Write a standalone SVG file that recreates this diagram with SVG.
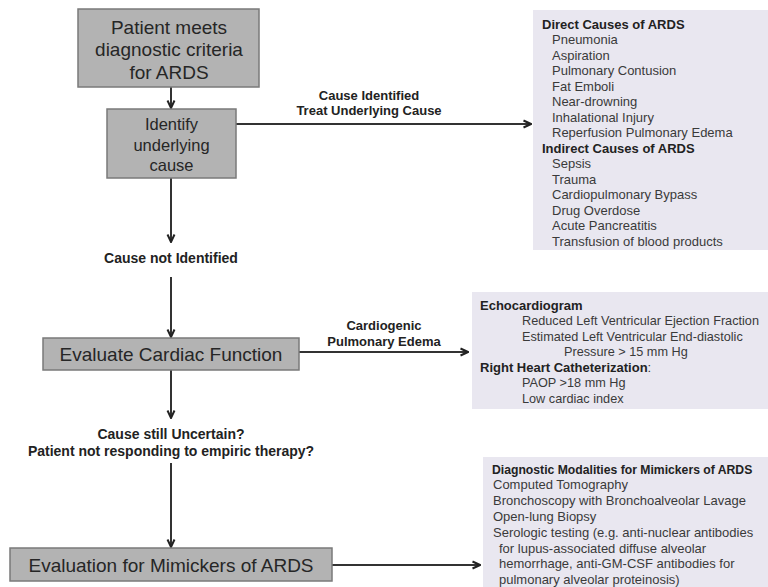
<svg xmlns="http://www.w3.org/2000/svg" width="768" height="587" viewBox="0 0 768 587">
<defs>
<style>
.box{fill:#b3b3b3;stroke:#7a7a7a;stroke-width:1.5}
.panel{fill:#e9e7f0;stroke:none}
.big{font-family:"Liberation Sans",Arial,sans-serif;font-size:19px;fill:#262626;text-anchor:middle}
.mid{font-family:"Liberation Sans",Arial,sans-serif;font-size:16.5px;fill:#262626;text-anchor:middle}
.lbl{font-family:"Liberation Sans",Arial,sans-serif;font-size:13px;font-weight:bold;fill:#222;text-anchor:middle}
.lbl14{font-family:"Liberation Sans",Arial,sans-serif;font-size:14px;font-weight:bold;fill:#222;text-anchor:middle}
.t{font-family:"Liberation Sans",Arial,sans-serif;font-size:13px;fill:#3a3a3a}
.t2{font-family:"Liberation Sans",Arial,sans-serif;font-size:12.7px;fill:#3a3a3a}
.h{font-family:"Liberation Sans",Arial,sans-serif;font-size:13px;font-weight:bold;fill:#222}
.c{fill:none;stroke:#333;stroke-width:2}
</style>
<marker id="arr" markerUnits="userSpaceOnUse" viewBox="0 0 10 10" refX="9" refY="5" markerWidth="10" markerHeight="10" orient="auto">
<path d="M1.5,1.5 L9,5 L1.5,8.5" fill="none" stroke="#222" stroke-width="2"/>
</marker>
</defs>

<g id="connectors">
<line class="c" x1="171" y1="87" x2="171" y2="108" marker-end="url(#arr)"/>
<line class="c" x1="236" y1="124" x2="531" y2="124" marker-end="url(#arr)"/>
<line class="c" x1="171" y1="178" x2="171" y2="242" marker-end="url(#arr)"/>
<line class="c" x1="171" y1="277" x2="171" y2="337" marker-end="url(#arr)"/>
<line class="c" x1="299" y1="352" x2="468" y2="352" marker-end="url(#arr)"/>
<line class="c" x1="171" y1="370" x2="171" y2="418" marker-end="url(#arr)"/>
<line class="c" x1="171" y1="463" x2="171" y2="547" marker-end="url(#arr)"/>
<line class="c" x1="332" y1="565" x2="480" y2="565" marker-end="url(#arr)"/>
<text class="lbl" x="369" y="99.5">Cause Identified</text>
<text class="lbl" x="369" y="114.5">Treat Underlying Cause</text>
<text class="lbl14" x="171" y="263">Cause not Identified</text>
<text class="lbl" x="384" y="329.5">Cardiogenic</text>
<text class="lbl" x="384" y="345.5">Pulmonary Edema</text>
<text class="lbl14" x="171" y="439">Cause still Uncertain?</text>
<text class="lbl14" x="171" y="456">Patient not responding to empiric therapy?</text>
</g>

<g id="n1">
<rect class="box" x="78" y="9" width="181" height="78"/>
<text class="big" x="169" y="33.6">Patient meets</text>
<text class="big" x="169" y="56.2">diagnostic criteria</text>
<text class="big" x="169" y="78.6">for ARDS</text>
</g>

<g id="n2">
<rect class="box" x="107" y="109" width="129" height="69"/>
<text class="mid" x="171.5" y="130.3">Identify</text>
<text class="mid" x="171.5" y="150.8">underlying</text>
<text class="mid" x="171.5" y="171.3">cause</text>
</g>

<g id="n3">
<rect class="box" x="43" y="338" width="256" height="32"/>
<text class="big" x="171" y="360.6">Evaluate Cardiac Function</text>
</g>

<g id="n4">
<rect class="box" x="10" y="548" width="322" height="33"/>
<text class="big" x="171" y="571.6">Evaluation for Mimickers of ARDS</text>
</g>

<g id="causes">
<rect class="panel" x="533" y="10" width="235" height="240"/>
<text class="h" x="542" y="28.5">Direct Causes of ARDS</text>
<text class="t" x="552" y="44">Pneumonia</text>
<text class="t" x="552" y="59.5">Aspiration</text>
<text class="t" x="552" y="75">Pulmonary Contusion</text>
<text class="t" x="552" y="90.5">Fat Emboli</text>
<text class="t" x="552" y="106">Near-drowning</text>
<text class="t" x="552" y="121.5">Inhalational Injury</text>
<text class="t" x="552" y="137">Reperfusion Pulmonary Edema</text>
<text class="h" x="542" y="152.5">Indirect Causes of ARDS</text>
<text class="t" x="552" y="168">Sepsis</text>
<text class="t" x="552" y="183.5">Trauma</text>
<text class="t" x="552" y="199">Cardiopulmonary Bypass</text>
<text class="t" x="552" y="214.5">Drug Overdose</text>
<text class="t" x="552" y="230">Acute Pancreatitis</text>
<text class="t" x="552" y="245.5">Transfusion of blood products</text>
</g>

<g id="cardiac">
<rect class="panel" x="472" y="292" width="296" height="117"/>
<text class="h" x="480" y="309.5">Echocardiogram</text>
<text class="t2" x="522" y="325">Reduced Left Ventricular Ejection Fraction</text>
<text class="t2" x="522" y="340.5">Estimated Left Ventricular End-diastolic</text>
<text class="t2" x="564" y="356">Pressure &gt; 15 mm Hg</text>
<text class="h" x="480" y="371.5">Right Heart Catheterization<tspan style="font-weight:normal;fill:#3a3a3a">:</tspan></text>
<text class="t2" x="522" y="387">PAOP &gt;18 mm Hg</text>
<text class="t2" x="522" y="402.5">Low cardiac index</text>
</g>

<g id="mimickers">
<rect class="panel" x="483" y="457" width="285" height="130"/>
<text class="h" x="492" y="473.5" style="font-size:12.2px">Diagnostic Modalities for Mimickers of ARDS</text>
<text class="t" x="493" y="489.3">Computed Tomography</text>
<text class="t" x="493" y="505.1">Bronchoscopy with Bronchoalveolar Lavage</text>
<text class="t" x="493" y="520.9">Open-lung Biopsy</text>
<text class="t" x="493" y="536.7">Serologic testing (e.g. anti-nuclear antibodies</text>
<text class="t" x="499" y="552.5">for lupus-associated diffuse alveolar</text>
<text class="t" x="499" y="568.3">hemorrhage, anti-GM-CSF antibodies for</text>
<text class="t" x="499" y="584.1">pulmonary alveolar proteinosis)</text>
</g>
</svg>
